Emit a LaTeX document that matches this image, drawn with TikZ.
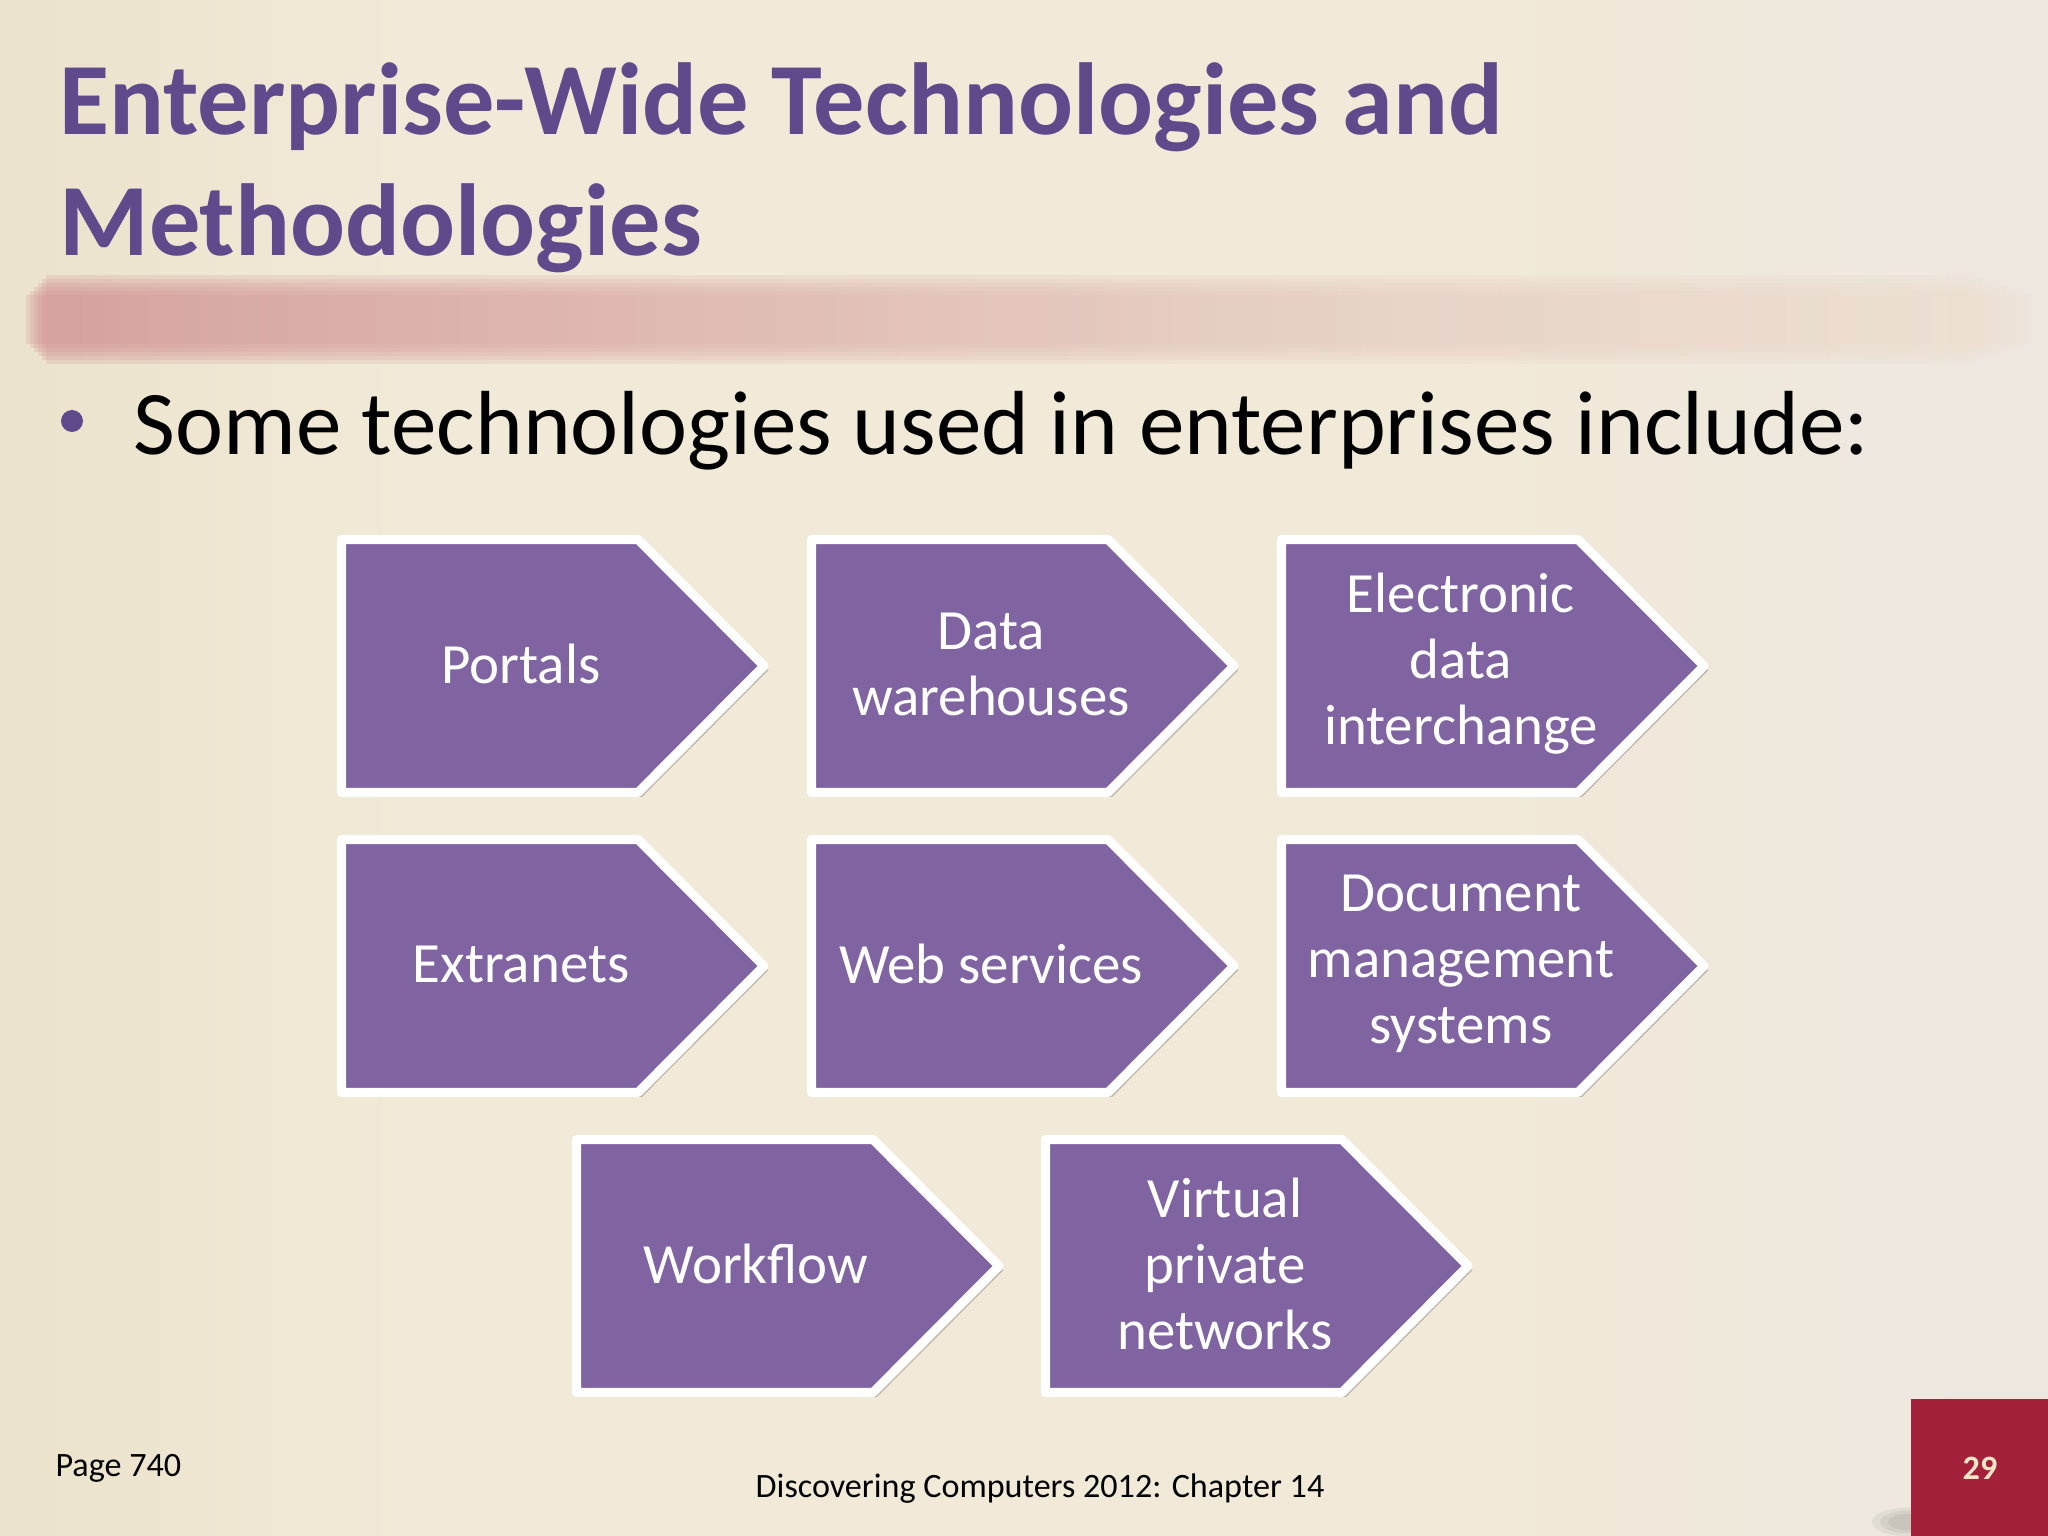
\documentclass[tikz,border=0pt]{standalone}
\usepackage{fontspec}
\setmainfont{Carlito}
\usetikzlibrary{shadows}

\definecolor{titlepurple}{HTML}{5F4B8B}
\definecolor{boxpurple}{HTML}{8064A2}
\definecolor{slidered}{HTML}{A3213A}
\definecolor{numcream}{HTML}{F4E6C6}
\definecolor{bgleft}{HTML}{DDD1AC}
\definecolor{bgmid}{HTML}{F1EAD8}
\definecolor{bgright}{HTML}{EBE5E6}
\definecolor{barleft}{HTML}{C05A68}
\definecolor{barmid}{HTML}{D69A9C}
\definecolor{barlight}{HTML}{E8D0C7}
\pgfdeclarehorizontalshading{slidebg}{100bp}{color(0bp)=(bgleft); color(8bp)=(bgleft!80!bgmid);
	color(35bp)=(bgmid); color(60bp)=(bgmid); color(85bp)=(bgright); color(100bp)=(bgright)}
\pgfdeclarehorizontalshading{titlebar}{100bp}{color(0bp)=(barleft); color(30bp)=(barmid);
	color(60bp)=(barlight); color(85bp)=(bgmid); color(100bp)=(bgmid)}

\tikzset{
	techbox/.style={draw=white, fill=boxpurple, line width=3.2pt, line join=round,
		drop shadow={shadow xshift=1.5pt, shadow yshift=-1.5pt, opacity=.3, fill=black!70}},
	techtext/.style={text=white, align=center, inner sep=0pt, font=\fontsize{20}{23.2}\selectfont},
	slidetext/.style={anchor=base west, inner sep=0pt}
}

\begin{document}
\begin{tikzpicture}[x=0.3515625pt, y=-0.3515625pt, line join=round, line cap=round]
	\useasboundingbox (0,0) rectangle (2048,1536);
	% background
	\shade[shading=slidebg] (0,0) rectangle (2048,1536);
	% blurred bar under the title
	\foreach \d in {20,16,...,0}{
		\shade[shading=titlebar, opacity=.22]
			({26+\d},{296-\d}) rectangle ({2030-3*\d},{344+\d});}
	% title
	\node[slidetext, text=titlepurple, font=\fontsize{36}{43}\selectfont\bfseries] (title1) at (59,135) {Enterprise-Wide Technologies and};
	\node[slidetext, text=titlepurple, font=\fontsize{36}{43}\selectfont\bfseries] (title2) at (59,256) {Methodologies};
	% bullet
	\fill[titlepurple] (72,421) circle (11);
	\node[slidetext, font=\fontsize{32}{38}\selectfont] (intro) at (133,455) {Some technologies used in enterprises include:};
	% technology boxes
	\foreach \x/\y/\nm/\txt in {337/535/portals/Portals, 807/535/warehouses/{Data\\warehouses},
		1277/535/edi/{Electronic\\data\\interchange}, 337/835/extranets/Extranets,
		807/835/webservices/Web services, 1277/835/docmanage/{Document\\management\\systems},
		572/1135/workflow/Workflow, 1041/1135/vpn/{Virtual\\private\\networks}}{
		\draw[techbox] ({\x+4.5},{\y+4.5}) -- ({\x+301},{\y+4.5}) -- ({\x+427},{\y+131})
			-- ({\x+301},{\y+257.5}) -- ({\x+4.5},{\y+257.5}) -- cycle;
		\node[techtext] (\nm) at ({\x+184},{\y+129}) {\txt};}
	% footer
	\node[slidetext, font=\fontsize{12}{14}\selectfont] (page) at (55,1476) {Page 740};
	\node[anchor=base, inner sep=0pt, font=\fontsize{12}{14}\selectfont] (chapter) at (1040,1497) {Discovering Computers 2012: Chapter 14};
	\foreach \r in {36,28,20}
		\fill[black, opacity=.05] (1908,1522) ellipse ({\r} and {\r/2.5});
	\fill[slidered] (1911,1399) rectangle (2048,1536);
	\node[text=numcream, font=\fontsize{12}{14}\selectfont\bfseries] (slideno) at (1980,1468) {29};
\end{tikzpicture}
\end{document}
